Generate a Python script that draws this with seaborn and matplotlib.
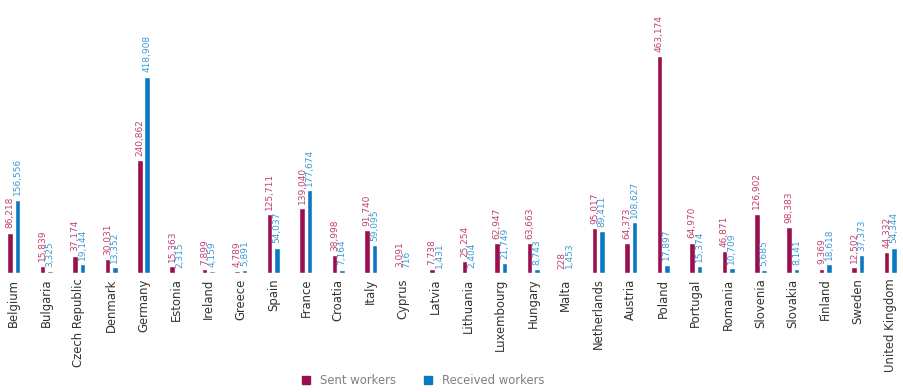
import matplotlib
matplotlib.use("Agg")
import matplotlib.pyplot as plt
from matplotlib.lines import Line2D
import seaborn as sns
import pandas as pd

countries = ["Belgium", "Bulgaria", "Czech Republic", "Denmark", "Germany", "Estonia",
             "Ireland", "Greece", "Spain", "France", "Croatia", "Italy", "Cyprus", "Latvia",
             "Lithuania", "Luxembourg", "Hungary", "Malta", "Netherlands", "Austria",
             "Poland", "Portugal", "Romania", "Slovenia", "Slovakia", "Finland", "Sweden",
             "United Kingdom"]
sent = [86218, 15839, 37174, 30031, 240862, 15363, 7899, 4789, 125711, 139040, 38998,
        91740, 3091, 7738, 25254, 62947, 63663, 228, 95017, 64373, 463174, 64970, 46871,
        126902, 98383, 9369, 12502, 44332]
received = [156556, 3325, 19144, 13352, 418908, 2315, 4159, 5891, 54037, 177674, 7164,
            59095, 716, 1431, 2404, 21749, 8743, 1453, 89411, 108627, 17897, 15374, 10709,
            5685, 8141, 18618, 37373, 54344]
series = ["Sent workers", "Received workers"]

bar_colors = ["#9b0f4f", "#0a78c4"]
label_colors = ["#c2406f", "#3d9ad6"]

df = pd.DataFrame({
    "country": countries * 2,
    "workers": sent + received,
    "type": [series[0]] * len(countries) + [series[1]] * len(countries),
})

sns.set_theme(style="white")
plt.rcParams["font.family"] = ["DejaVu Sans"]

fig = plt.figure(figsize=(9.04, 3.92), dpi=100)
ax = fig.add_axes([0.0, 0.3036, 1.0, 0.574])

sns.barplot(data=df, x="country", y="workers", hue="type", hue_order=series,
            palette=bar_colors, width=0.46, gap=0.26, legend=False, ax=ax,
            saturation=1, errorbar=None)

for cont, col in zip(ax.containers, label_colors):
    ax.bar_label(cont, labels=[f"{int(v.get_height()):,}" for v in cont],
                 rotation=90, padding=3, fontsize=6.5, color=col)

ax.set_ylim(0, 480000)
ax.set_xlim(-0.42, len(countries) - 0.58)
ax.set_xlabel("")
ax.set_ylabel("")
ax.set_yticks([])
ax.tick_params(axis="x", length=0, pad=4)
ax.set_xticks(range(len(countries)))
ax.set_xticklabels(countries, rotation=90, fontsize=8.4, color="#333333")
for s in ax.spines.values():
    s.set_visible(False)

handles = [Line2D([0], [0], marker="s", linestyle="none", markersize=5.5,
                  markerfacecolor=c, markeredgecolor=c) for c in bar_colors]
fig.legend(handles, series, loc="lower center", bbox_to_anchor=(0.464, -0.015),
           ncol=2, frameon=False, fontsize=8.4, labelcolor="#808080",
           handletextpad=0.2, columnspacing=1.7)

fig.savefig("out.png", dpi=100)
